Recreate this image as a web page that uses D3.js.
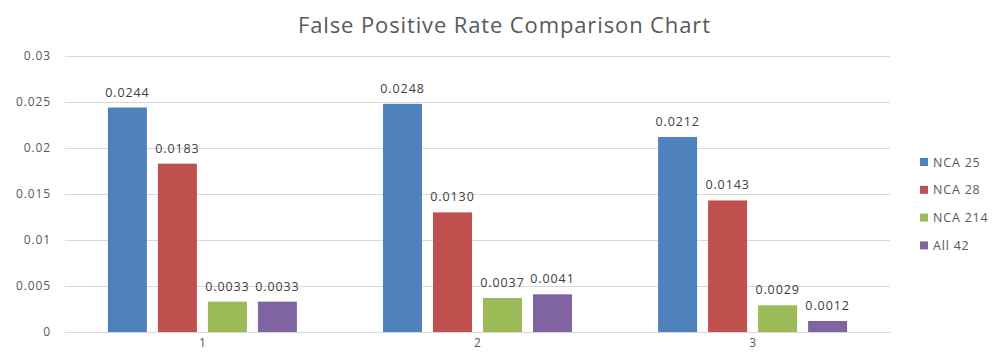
<!DOCTYPE html>
<html>
<head>
<meta charset="utf-8">
<script src="https://cdn.jsdelivr.net/npm/d3@7/dist/d3.min.js"></script>
<style>
  body { margin: 0; background: #fff; }
  text { font-family: "Open Sans", "Liberation Sans", sans-serif; }
</style>
</head>
<body>
<svg id="chart" width="993" height="356"></svg>
<script>
var groups = ["1", "2", "3"];
var seriesNames = ["NCA 25", "NCA 28", "NCA 214", "All 42"];
var nca25 = [0.0244, 0.0248, 0.0212];
var nca28 = [0.0183, 0.0130, 0.0143];
var nca214 = [0.0033, 0.0037, 0.0029];
var all42 = [0.0033, 0.0041, 0.0012];
var yTicks = [0, 0.005, 0.01, 0.015, 0.02, 0.025, 0.03];
var colors = ["#4f81bd", "#c0504d", "#9bbb59", "#8064a2"];

var seriesVals = [nca25, nca28, nca214, all42];

var svg = d3.select("#chart"),
  margin = {top: 56, right: 103, bottom: 24, left: 65},
  width = +svg.attr("width") - margin.left - margin.right,
  height = +svg.attr("height") - margin.top - margin.bottom,
  g = svg.append("g").attr("transform", "translate(" + margin.left + "," + margin.top + ")");

var x0 = d3.scaleBand().domain(groups).range([0, width]).paddingInner(0.313).paddingOuter(0.156);
var x1 = d3.scaleBand().domain(seriesNames).range([0, x0.bandwidth()]).paddingInner(0.22).paddingOuter(0);
var y = d3.scaleLinear().domain([0, 0.03]).range([height, 0]);

// gridlines + y labels
g.append("g")
  .call(d3.axisLeft(y).tickValues(yTicks).tickSize(-width).tickFormat(function(d) { return d === 0 ? "0" : String(+d.toFixed(3)); }))
  .call(function(a) {
    a.select(".domain").remove();
    a.selectAll("line").attr("stroke", "#d9d9d9");
    a.selectAll("text").attr("x", -14).attr("fill", "#595959")
      .style("font-size", "12px").style("letter-spacing", "0.9px");
  });

// bars
var grp = g.selectAll(".grp")
  .data(groups)
  .enter().append("g")
  .attr("transform", function(d) { return "translate(" + x0(d) + ",0)"; });

grp.selectAll("rect")
  .data(function(d, i) { return seriesNames.map(function(s, j) { return {s: s, v: seriesVals[j][i], c: colors[j]}; }); })
  .enter().append("rect")
  .attr("x", function(d) { return x1(d.s); })
  .attr("y", function(d) { return y(d.v); })
  .attr("width", x1.bandwidth())
  .attr("height", function(d) { return height - y(d.v); })
  .attr("fill", function(d) { return d.c; });

grp.selectAll(".lbl")
  .data(function(d, i) { return seriesNames.map(function(s, j) { return {s: s, v: seriesVals[j][i]}; }); })
  .enter().append("text")
  .attr("x", function(d) { return x1(d.s) + x1.bandwidth() / 2; })
  .attr("y", function(d) { return y(d.v) - 11; })
  .attr("text-anchor", "middle")
  .attr("fill", "#404040")
  .style("font-size", "12.5px")
  .style("letter-spacing", "0.9px")
  .text(function(d) { return d.v.toFixed(4); });

// x axis labels
g.append("g")
  .attr("transform", "translate(0," + height + ")")
  .call(d3.axisBottom(x0).tickSize(0).tickPadding(6))
  .call(function(a) {
    a.select(".domain").attr("stroke", "#d9d9d9");
    a.selectAll("text").attr("fill", "#595959").style("font-size", "12px");
  });

// title
svg.append("text")
  .attr("x", 504)
  .attr("y", 33)
  .attr("text-anchor", "middle")
  .attr("fill", "#595959")
  .attr("textLength", 412)
  .attr("lengthAdjust", "spacing")
  .style("font-size", "22px")
  .text("False Positive Rate Comparison  Chart");

// legend
var leg = svg.append("g").attr("transform", "translate(920,162)");
var li = leg.selectAll("g").data(seriesNames).enter().append("g")
  .attr("transform", function(d, i) { return "translate(0," + (i * 27.8) + ")"; });
li.append("rect").attr("x", 0).attr("y", -4).attr("width", 8).attr("height", 8)
  .attr("fill", function(d, i) { return colors[i]; });
li.append("text").attr("x", 13).attr("y", 4.5).attr("fill", "#595959")
  .style("font-size", "12.5px").style("letter-spacing", "0.8px")
  .text(function(d) { return d; });
</script>
</body>
</html>
